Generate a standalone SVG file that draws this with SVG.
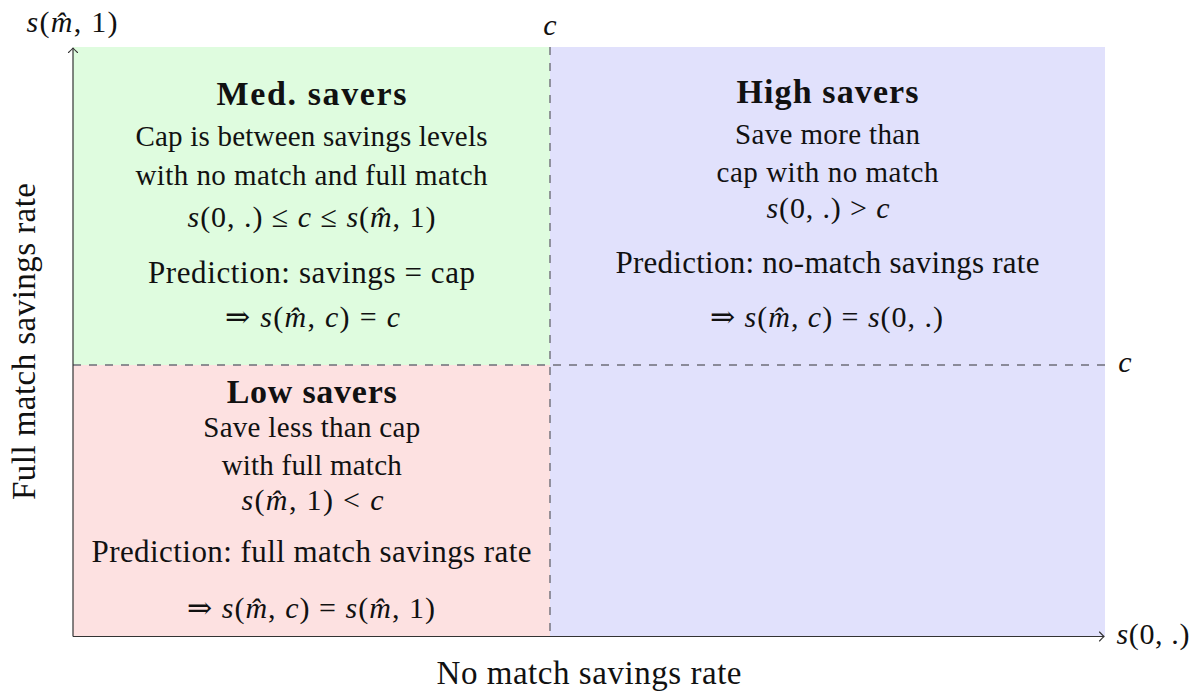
<svg xmlns="http://www.w3.org/2000/svg" width="1200" height="694" viewBox="0 0 1200 694">
<defs>
<style>
text{font-family:"Liberation Serif","DejaVu Serif",serif;fill:#111;text-anchor:middle}
.t{font-weight:bold;font-size:34px}
.d{font-size:29px}
.p{font-size:31px}
.m{font-size:30px}
.ax{font-size:33px}
.i{font-style:italic}
.dash{stroke:#6e6e78;stroke-width:1.4;stroke-dasharray:8 8;fill:none}
.axis{stroke:#333;stroke-width:1.2;fill:none}
</style>
<marker id="tip" viewBox="-6 -6 8 12" markerWidth="8" markerHeight="12" refX="0" refY="0" orient="auto" markerUnits="userSpaceOnUse">
<path d="M -4.5 -4.5 Q -1.2 -1 0 0 Q -1.2 1 -4.5 4.5" stroke="#333" stroke-width="1.1" fill="none" stroke-linecap="round"/>
</marker>
</defs>
<rect width="1200" height="694" fill="#fff"/>

<g id="med-savers">
<rect x="73" y="47" width="477" height="318" fill="#dffcdf"/>
<text class="t" x="311.5" y="105" textLength="190" lengthAdjust="spacing">Med. savers</text>
<text class="d" x="311.5" y="146" textLength="352" lengthAdjust="spacing">Cap is between savings levels</text>
<text class="d" x="311.5" y="185" textLength="352" lengthAdjust="spacing">with no match and full match</text>
<text class="m" x="311.5" y="227" textLength="248" lengthAdjust="spacing"><tspan class="i">s</tspan>(0, .) ≤ <tspan class="i">c</tspan> ≤ <tspan class="i">s</tspan>(<tspan class="i">m̂</tspan>, 1)</text>
<text class="p" x="311.5" y="283" textLength="327" lengthAdjust="spacing">Prediction: savings = cap</text>
<text class="m" x="312.5" y="327" textLength="175" lengthAdjust="spacing">⇒ <tspan class="i">s</tspan>(<tspan class="i">m̂</tspan>, <tspan class="i">c</tspan>) = <tspan class="i">c</tspan></text>
</g>

<g id="high-savers">
<rect x="550" y="47" width="555" height="589" fill="#e1e1fc"/>
<text class="t" x="827.5" y="103" textLength="182" lengthAdjust="spacing">High savers</text>
<text class="d" x="827.5" y="144" textLength="185" lengthAdjust="spacing">Save more than</text>
<text class="d" x="827.5" y="182" textLength="222" lengthAdjust="spacing">cap with no match</text>
<text class="m" x="828" y="218" textLength="123" lengthAdjust="spacing"><tspan class="i">s</tspan>(0, .) &gt; <tspan class="i">c</tspan></text>
<text class="p" x="827.5" y="273" textLength="424" lengthAdjust="spacing">Prediction: no-match savings rate</text>
<text class="m" x="826.5" y="327" textLength="233" lengthAdjust="spacing">⇒ <tspan class="i">s</tspan>(<tspan class="i">m̂</tspan>, <tspan class="i">c</tspan>) = <tspan class="i">s</tspan>(0, .)</text>
</g>

<g id="low-savers">
<rect x="73" y="365" width="477" height="271" fill="#fde1e1"/>
<text class="t" x="311.7" y="403" textLength="170" lengthAdjust="spacing">Low savers</text>
<text class="d" x="311.7" y="437" textLength="217" lengthAdjust="spacing">Save less than cap</text>
<text class="d" x="311.7" y="475" textLength="180" lengthAdjust="spacing">with full match</text>
<text class="m" x="312.5" y="510" textLength="142" lengthAdjust="spacing"><tspan class="i">s</tspan>(<tspan class="i">m̂</tspan>, 1) &lt; <tspan class="i">c</tspan></text>
<text class="p" x="311.5" y="562" textLength="440" lengthAdjust="spacing">Prediction: full match savings rate</text>
<text class="m" x="311" y="618" textLength="248" lengthAdjust="spacing">⇒ <tspan class="i">s</tspan>(<tspan class="i">m̂</tspan>, <tspan class="i">c</tspan>) = <tspan class="i">s</tspan>(<tspan class="i">m̂</tspan>, 1)</text>
</g>

<g id="connectors">
<line class="dash" x1="550" y1="47" x2="550" y2="636"/>
<line class="dash" x1="73" y1="365" x2="1105" y2="365"/>
<line class="axis" x1="73" y1="636.5" x2="1104" y2="636.5" marker-end="url(#tip)"/>
<line class="axis" x1="73" y1="636.5" x2="73" y2="48" marker-end="url(#tip)"/>
</g>

<g id="labels">
<text class="m" x="72" y="32" textLength="91" lengthAdjust="spacing"><tspan class="i">s</tspan>(<tspan class="i">m̂</tspan>, 1)</text>
<text class="m i" x="550" y="35">c</text>
<text class="m i" x="1125" y="372">c</text>
<text class="m" x="1153" y="644" textLength="73" lengthAdjust="spacing"><tspan class="i">s</tspan>(0, .)</text>
<text class="ax" x="589" y="684" textLength="305" lengthAdjust="spacing">No match savings rate</text>
<text class="ax" transform="translate(35 341.5) rotate(-90)" x="0" y="0" textLength="317" lengthAdjust="spacing">Full match savings rate</text>
</g>
</svg>
